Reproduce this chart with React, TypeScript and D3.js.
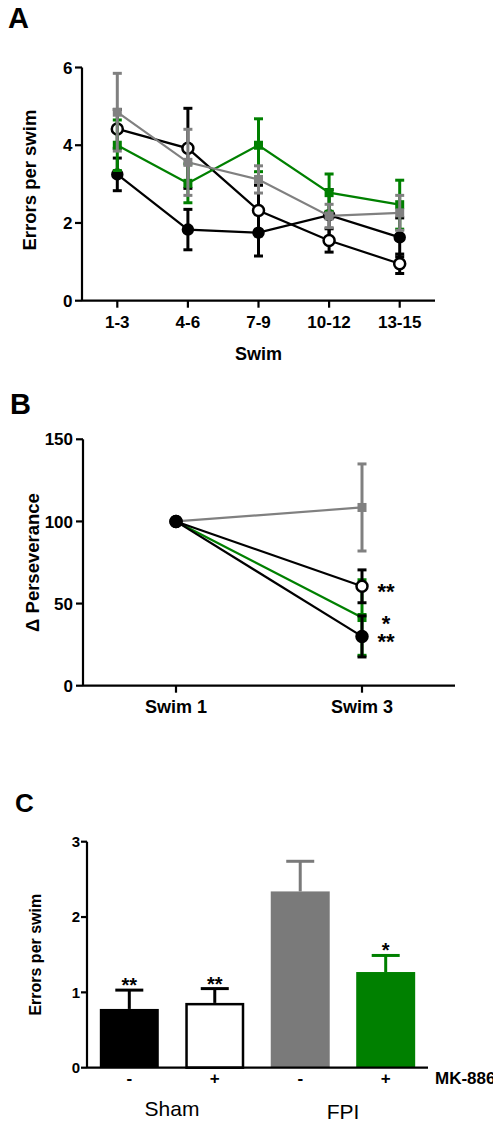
import React from "react";
import * as d3 from "d3";

// ---------- Panel A data ----------
const swimBlocks = ["1-3", "4-6", "7-9", "10-12", "13-15"];
const aShamVehMean = [3.25, 1.83, 1.75, 2.2, 1.63];
const aShamVehSem = [0.42, 0.52, 0.6, 0.66, 0.5];
const aShamMkMean = [4.42, 3.92, 2.32, 1.55, 0.95];
const aShamMkSem = [0.5, 1.03, 0.65, 0.3, 0.25];
const aFpiVehMean = [4.85, 3.56, 3.12, 2.18, 2.26];
const aFpiVehSem = [1.0, 0.85, 0.35, 0.3, 0.45];
const aFpiMkMean = [4.0, 3.02, 4.0, 2.78, 2.47];
const aFpiMkSem = [0.65, 0.5, 0.68, 0.48, 0.63];
const aTicks = [0, 2, 4, 6];

// ---------- Panel B data ----------
const sessions = ["Swim 1", "Swim 3"];
const bShamVehMean = [100, 30];
const bShamVehSem = [0, 12.5];
const bShamMkMean = [100, 60.5];
const bShamMkSem = [0, 10];
const bFpiVehMean = [100, 108.5];
const bFpiVehSem = [0, 26.5];
const bFpiMkMean = [100, 41.5];
const bFpiMkSem = [0, 23];
const bStars = { shamVeh: "**", shamMk: "**", fpiMk: "*" };
const bTicks = [0, 50, 100, 150];

// ---------- Panel C data ----------
const cGroups = ["sham-", "sham+", "fpi-", "fpi+"];
const cDrugLabels = ["-", "+", "-", "+"];
const cMeans = [0.78, 0.86, 2.34, 1.27];
const cSems = [0.25, 0.19, 0.4, 0.22];
const cStars = ["**", "**", "", "*"];
const cTicks = [0, 1, 2, 3];

const BLACK = "#000000";
const GREY = "#808080";
const GREEN = "#008000";
const FONT = "'Liberation Sans', Arial, Helvetica, sans-serif";

type Series = {
  key: string;
  mean: number[];
  sem: number[];
  color: string;
  marker: "circle" | "square";
  fill: string;
  r: number;
};

function Marker({ x, y, s }: { x: number; y: number; s: Series }) {
  if (s.marker === "circle")
    return <circle cx={x} cy={y} r={s.r} fill={s.fill} stroke={s.color} strokeWidth={2.5} />;
  return <rect x={x - s.r} y={y - s.r} width={s.r * 2} height={s.r * 2} fill={s.fill} />;
}

function LinePanel({
  cats,
  series,
  x,
  y,
  cap,
}: {
  cats: string[];
  series: Series[];
  x: d3.ScalePoint<string>;
  y: d3.ScaleLinear<number, number>;
  cap: number;
}) {
  return (
    <g>
      {series.map((s) => {
        const line = d3
          .line<number>()
          .x((_, i) => x(cats[i]) as number)
          .y((d) => y(d));
        return (
          <g key={s.key}>
            <path d={line(s.mean) || ""} fill="none" stroke={s.color} strokeWidth={2.2} />
            {s.mean.map((m, i) => {
              const cx = x(cats[i]) as number;
              const e = s.sem[i];
              if (!e) return null;
              return (
                <g key={i} stroke={s.color} strokeWidth={3}>
                  <line x1={cx} x2={cx} y1={y(m - e)} y2={y(m + e)} />
                  <line x1={cx - cap} x2={cx + cap} y1={y(m + e)} y2={y(m + e)} />
                  <line x1={cx - cap} x2={cx + cap} y1={y(m - e)} y2={y(m - e)} />
                </g>
              );
            })}
            {s.mean.map((m, i) => (
              <Marker key={"m" + i} x={x(cats[i]) as number} y={y(m)} s={s} />
            ))}
          </g>
        );
      })}
    </g>
  );
}

export default function App() {
  // Panel A scales
  const xA = d3.scalePoint<string>().domain(swimBlocks).range([82, 435]).padding(0.5);
  const yA = d3.scaleLinear().domain([0, 6]).range([300.7, 67.5]);
  const seriesA: Series[] = [
    { key: "shamVeh", mean: aShamVehMean, sem: aShamVehSem, color: BLACK, marker: "circle", fill: BLACK, r: 5 },
    { key: "shamMk", mean: aShamMkMean, sem: aShamMkSem, color: BLACK, marker: "circle", fill: "#ffffff", r: 5.5 },
    { key: "fpiMk", mean: aFpiMkMean, sem: aFpiMkSem, color: GREEN, marker: "square", fill: GREEN, r: 4.5 },
    { key: "fpiVeh", mean: aFpiVehMean, sem: aFpiVehSem, color: GREY, marker: "square", fill: GREY, r: 4.5 },
  ];

  // Panel B scales
  const xB = d3.scalePoint<string>().domain(sessions).range([83, 455]).padding(0.5);
  const yB = d3.scaleLinear().domain([0, 150]).range([685.7, 439.3]);
  const seriesB: Series[] = [
    { key: "fpiVeh", mean: bFpiVehMean, sem: bFpiVehSem, color: GREY, marker: "square", fill: GREY, r: 4.5 },
    { key: "fpiMk", mean: bFpiMkMean, sem: bFpiMkSem, color: GREEN, marker: "square", fill: GREEN, r: 4.5 },
    { key: "shamMk", mean: bShamMkMean, sem: bShamMkSem, color: BLACK, marker: "circle", fill: "#ffffff", r: 5.5 },
    { key: "shamVeh", mean: bShamVehMean, sem: bShamVehSem, color: BLACK, marker: "circle", fill: BLACK, r: 5.5 },
  ];

  // Panel C scales
  const xC = d3.scaleBand<string>().domain(cGroups).range([87, 428]).paddingInner(0.31).paddingOuter(0.15);
  const yC = d3.scaleLinear().domain([0, 3]).range([1067.7, 841.7]);
  const cFill = [BLACK, "#ffffff", "#7a7a7a", GREEN];
  const cStroke = [BLACK, BLACK, "#7a7a7a", GREEN];

  const axisW = 2.2;
  const bold = { fontFamily: FONT, fontWeight: 700 as const };

  const starB = (key: keyof typeof bStars, val: number) => (
    <text
      key={key}
      x={xB("Swim 3")! + 24}
      y={yB(val) + 13}
      fontSize={22}
      textAnchor="middle"
      {...bold}
    >
      {bStars[key]}
    </text>
  );

  return (
    <svg
      width={493}
      height={1123}
      style={{ position: "absolute", left: 0, top: 0, background: "#fff" }}
      fontFamily={FONT}
    >
      <rect width={493} height={1123} fill="#ffffff" />

      {/* ================= Panel A ================= */}
      <text x={8} y={28} fontSize={29} {...bold}>A</text>
      <text
        transform={`translate(30,${(yA(0) + yA(6)) / 2 - 4}) rotate(-90)`}
        textAnchor="middle"
        dy="0.35em"
        fontSize={18.5}
        {...bold}
      >
        Errors per swim
      </text>
      {aTicks.map((t) => (
        <g key={t}>
          <line x1={75} x2={82} y1={yA(t)} y2={yA(t)} stroke={BLACK} strokeWidth={axisW} />
          <text x={72.5} y={yA(t)} dy="0.36em" textAnchor="end" fontSize={17} {...bold}>
            {t}
          </text>
        </g>
      ))}
      {swimBlocks.map((c) => (
        <g key={c}>
          <line x1={xA(c)} x2={xA(c)} y1={yA(0)} y2={yA(0) + 7} stroke={BLACK} strokeWidth={axisW} />
          <text x={xA(c)} y={328} textAnchor="middle" fontSize={17} {...bold}>
            {c}
          </text>
        </g>
      ))}
      <text x={(82 + 435) / 2} y={360} textAnchor="middle" fontSize={18} {...bold}>
        Swim
      </text>
      <LinePanel cats={swimBlocks} series={seriesA} x={xA} y={yA} cap={4.5} />
      <line x1={82} x2={82} y1={yA(6)} y2={yA(0)} stroke={BLACK} strokeWidth={axisW} />
      <line x1={82} x2={435} y1={yA(0)} y2={yA(0)} stroke={BLACK} strokeWidth={axisW} />

      {/* ================= Panel B ================= */}
      <text x={10} y={414} fontSize={29} {...bold}>B</text>
      <text
        transform={`translate(33,${(yB(0) + yB(150)) / 2}) rotate(-90)`}
        textAnchor="middle"
        dy="0.35em"
        fontSize={18.5}
        {...bold}
      >
        Δ Perseverance
      </text>
      {bTicks.map((t) => (
        <g key={t}>
          <line x1={76} x2={83} y1={yB(t)} y2={yB(t)} stroke={BLACK} strokeWidth={axisW} />
          <text x={73} y={yB(t)} dy="0.36em" textAnchor="end" fontSize={17} {...bold}>
            {t}
          </text>
        </g>
      ))}
      {sessions.map((c) => (
        <g key={c}>
          <line x1={xB(c)} x2={xB(c)} y1={yB(0)} y2={yB(0) + 7} stroke={BLACK} strokeWidth={axisW} />
          <text x={xB(c)} y={713} textAnchor="middle" fontSize={18} {...bold}>
            {c}
          </text>
        </g>
      ))}
      <LinePanel cats={sessions} series={seriesB} x={xB} y={yB} cap={4.5} />
      {starB("shamMk", bShamMkMean[1])}
      {starB("fpiMk", bFpiMkMean[1])}
      {starB("shamVeh", bShamVehMean[1])}
      <line x1={83} x2={83} y1={yB(150)} y2={yB(0)} stroke={BLACK} strokeWidth={axisW} />
      <line x1={83} x2={455} y1={yB(0)} y2={yB(0)} stroke={BLACK} strokeWidth={axisW} />

      {/* ================= Panel C ================= */}
      <text x={15} y={812} fontSize={26} {...bold}>C</text>
      <text
        transform={`translate(35.5,${(yC(0) + yC(3)) / 2}) rotate(-90)`}
        textAnchor="middle"
        dy="0.35em"
        fontSize={16}
        {...bold}
      >
        Errors per swim
      </text>
      {cTicks.map((t) => (
        <g key={t}>
          <line x1={81} x2={87} y1={yC(t)} y2={yC(t)} stroke={BLACK} strokeWidth={axisW} />
          <text x={80} y={yC(t)} dy="0.36em" textAnchor="end" fontSize={15} {...bold}>
            {t}
          </text>
        </g>
      ))}
      {cGroups.map((g, i) => {
        const x0 = xC(g)!;
        const bw = xC.bandwidth();
        const cx = x0 + bw / 2;
        const top = yC(cMeans[i]);
        const errTop = yC(cMeans[i] + cSems[i]);
        const isWhite = cFill[i] === "#ffffff";
        return (
          <g key={g}>
            <line x1={cx} x2={cx} y1={top} y2={errTop} stroke={cStroke[i]} strokeWidth={3} />
            <line x1={cx - 14} x2={cx + 14} y1={errTop} y2={errTop} stroke={cStroke[i]} strokeWidth={3} />
            <rect
              x={isWhite ? x0 + 1.25 : x0}
              y={isWhite ? top + 1.25 : top}
              width={isWhite ? bw - 2.5 : bw}
              height={isWhite ? yC(0) - top - 1.25 : yC(0) - top}
              fill={cFill[i]}
              stroke={isWhite ? BLACK : "none"}
              strokeWidth={2.5}
            />
            {cStars[i] && (
              <text x={cx} y={errTop + 2} textAnchor="middle" fontSize={20} {...bold}>
                {cStars[i]}
              </text>
            )}
            <text x={cx} y={1084} textAnchor="middle" fontSize={17} {...bold}>
              {cDrugLabels[i]}
            </text>
          </g>
        );
      })}
      <text x={435} y={1084} fontSize={17} {...bold}>MK-886</text>
      <text
        x={(xC("sham-")! + xC("sham+")! + xC.bandwidth()) / 2}
        y={1116}
        textAnchor="middle"
        fontSize={21}
        fontFamily={FONT}
      >
        Sham
      </text>
      <text
        x={(xC("fpi-")! + xC("fpi+")! + xC.bandwidth()) / 2}
        y={1119}
        textAnchor="middle"
        fontSize={21}
        fontFamily={FONT}
      >
        FPI
      </text>
      <line x1={87} x2={87} y1={yC(3)} y2={yC(0)} stroke={BLACK} strokeWidth={axisW} />
      <line x1={87} x2={428} y1={yC(0)} y2={yC(0)} stroke={BLACK} strokeWidth={axisW} />
    </svg>
  );
}
